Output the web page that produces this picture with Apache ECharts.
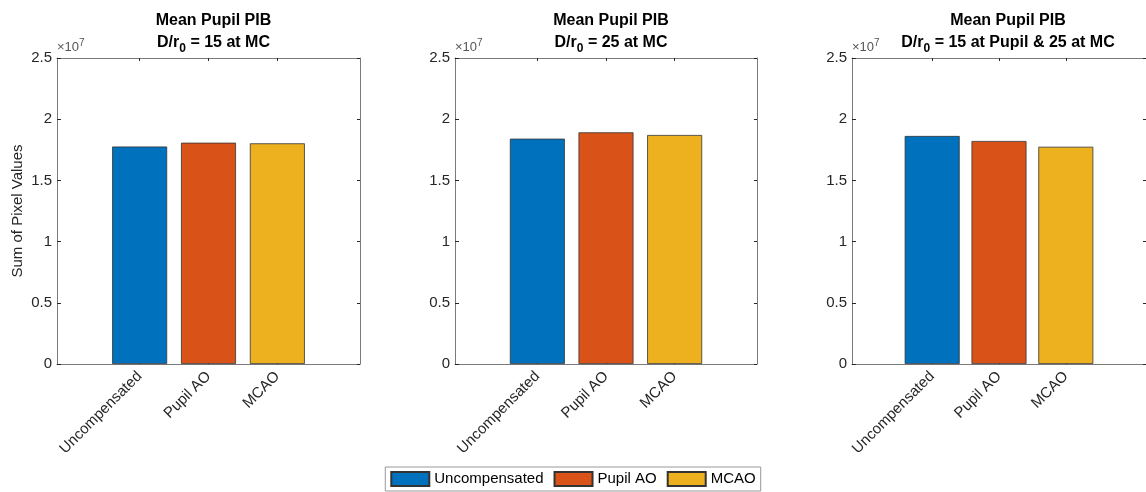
<!DOCTYPE html>
<html>
<head>
<meta charset="utf-8">
<script src="https://cdn.jsdelivr.net/npm/echarts@6/dist/echarts.min.js"></script>
<style>
html,body{margin:0;padding:0;background:#fff;}
#c{width:1146px;height:492px;}
</style>
</head>
<body>
<div id="c"></div>
<script>
// ---- data ----
const categories = ['Uncompensated', 'Pupil AO', 'MCAO'];
const panelConditions = ['15 at MC', '25 at MC', '15 at Pupil & 25 at MC'];
const uncompensated = [1.777e7, 1.841e7, 1.863e7];
const pupilAO = [1.808e7, 1.893e7, 1.822e7];
const mcao = [1.803e7, 1.871e7, 1.775e7];
const yTicks = [0, 0.5e7, 1e7, 1.5e7, 2e7, 2.5e7];
const yLabel = 'Sum of Pixel Values';
const titleLine1 = 'Mean Pupil PIB';

const seriesValues = [uncompensated, pupilAO, mcao];
const colors = ['#0072BD', '#D95319', '#EDB120'];

// ---- layout ----
const panels = [
  {left: 57, width: 303},
  {left: 455, width: 302},
  {left: 852, width: 302}
];
const gTop = 58, gHeight = 306;
const xMin = -0.2, xMax = 4.2;
const catPos = categories.map((c, i) => i + 1);
const axisColor = '#7a7a7a';
const textColor = '#262626';
const font = 'Liberation Sans, Helvetica, Arial, sans-serif';

const grids = [], xAxes = [], yAxes = [], series = [], titles = [];
panels.forEach((p, k) => {
  grids.push({left: p.left, width: p.width, top: gTop, height: gHeight, containLabel: false});
  xAxes.push({
    type: 'value', gridIndex: k, min: xMin, max: xMax, position: 'bottom',
    axisLine: {show: true, onZero: false, lineStyle: {color: axisColor, width: 1}},
    axisTick: {show: true, inside: true, length: 3, customValues: catPos, lineStyle: {color: textColor}},
    axisLabel: {show: true, customValues: catPos, rotate: 45, margin: 10, color: textColor, fontSize: 15, fontFamily: font,
      padding: [0, 0, 0, 0],
      formatter: v => categories[Math.round(v) - 1] || ''},
    splitLine: {show: false}
  });
  xAxes.push({
    type: 'value', gridIndex: k, min: xMin, max: xMax, position: 'top',
    axisLine: {show: true, onZero: false, lineStyle: {color: axisColor, width: 1}},
    axisTick: {show: true, inside: true, length: 3, customValues: catPos, lineStyle: {color: textColor}},
    axisLabel: {show: false},
    splitLine: {show: false}
  });
  yAxes.push({
    type: 'value', gridIndex: k, min: yTicks[0], max: yTicks[yTicks.length - 1], interval: yTicks[1] - yTicks[0], position: 'left',
    name: '{a|×10}{b|7}', nameLocation: 'end', nameGap: 2,
    nameTextStyle: {align: 'left', verticalAlign: 'bottom',
      rich: {a: {fontSize: 13, color: '#555', fontFamily: font}, b: {fontSize: 10, color: '#555', fontFamily: font, verticalAlign: 'top', padding: [0, 0, 8, 0]}}},
    axisLine: {show: true, onZero: false, lineStyle: {color: axisColor, width: 1}},
    axisTick: {show: true, inside: true, length: 4, lineStyle: {color: textColor}},
    axisLabel: {color: textColor, fontSize: 15, fontFamily: font, margin: 5, formatter: v => String(+(v / 1e7).toFixed(1))},
    splitLine: {show: false}
  });
  yAxes.push({
    type: 'value', gridIndex: k, min: yTicks[0], max: yTicks[yTicks.length - 1], interval: yTicks[1] - yTicks[0], position: 'right',
    axisLine: {show: true, onZero: false, lineStyle: {color: axisColor, width: 1}},
    axisTick: {show: true, inside: true, length: 3, lineStyle: {color: textColor}},
    axisLabel: {show: false},
    splitLine: {show: false}
  });
  titles.push({
    left: p.left + p.width / 2, top: 5, textAlign: 'center',
    text: '{t|' + titleLine1 + '}\n{t|D/r}{s|0}{t| = ' + panelConditions[k] + '}',
    textStyle: {
      rich: {
        t: {fontSize: 16, fontWeight: 'bold', color: '#000', fontFamily: font, lineHeight: 22},
        s: {fontSize: 12, fontWeight: 'bold', color: '#000', fontFamily: font, lineHeight: 22, padding: [12, 0, 0, 0]}
      }
    }
  });
  seriesValues.forEach((vals, j) => {
    series.push({
      name: categories[j], type: 'bar', xAxisIndex: 2 * k, yAxisIndex: 2 * k,
      barWidth: 55, barGap: '-100%',
      itemStyle: {color: colors[j], borderColor: '#333', borderWidth: 0.8},
      data: [[catPos[j], vals[k]]]
    });
  });
});

const chart = echarts.init(document.getElementById('c'), null, {renderer: 'canvas'});
chart.setOption({
  animation: false,
  backgroundColor: '#fff',
  title: titles,
  grid: grids,
  xAxis: xAxes,
  yAxis: yAxes,
  series: series,
  graphic: [{
    type: 'text', x: 18, y: gTop + gHeight / 2, rotation: Math.PI / 2,
    style: {text: yLabel, fontSize: 15, fill: textColor, fontFamily: font, align: 'center', verticalAlign: 'middle'}
  }],
  legend: {
    data: categories, bottom: 1, left: 'center',
    itemWidth: 38, itemHeight: 14, itemGap: 10, icon: 'rect',
    textStyle: {fontSize: 15, color: '#000', fontFamily: font},
    borderColor: '#999', borderWidth: 1, padding: [4, 5, 4, 5], borderRadius: 0
  }
});
</script>
</body>
</html>
